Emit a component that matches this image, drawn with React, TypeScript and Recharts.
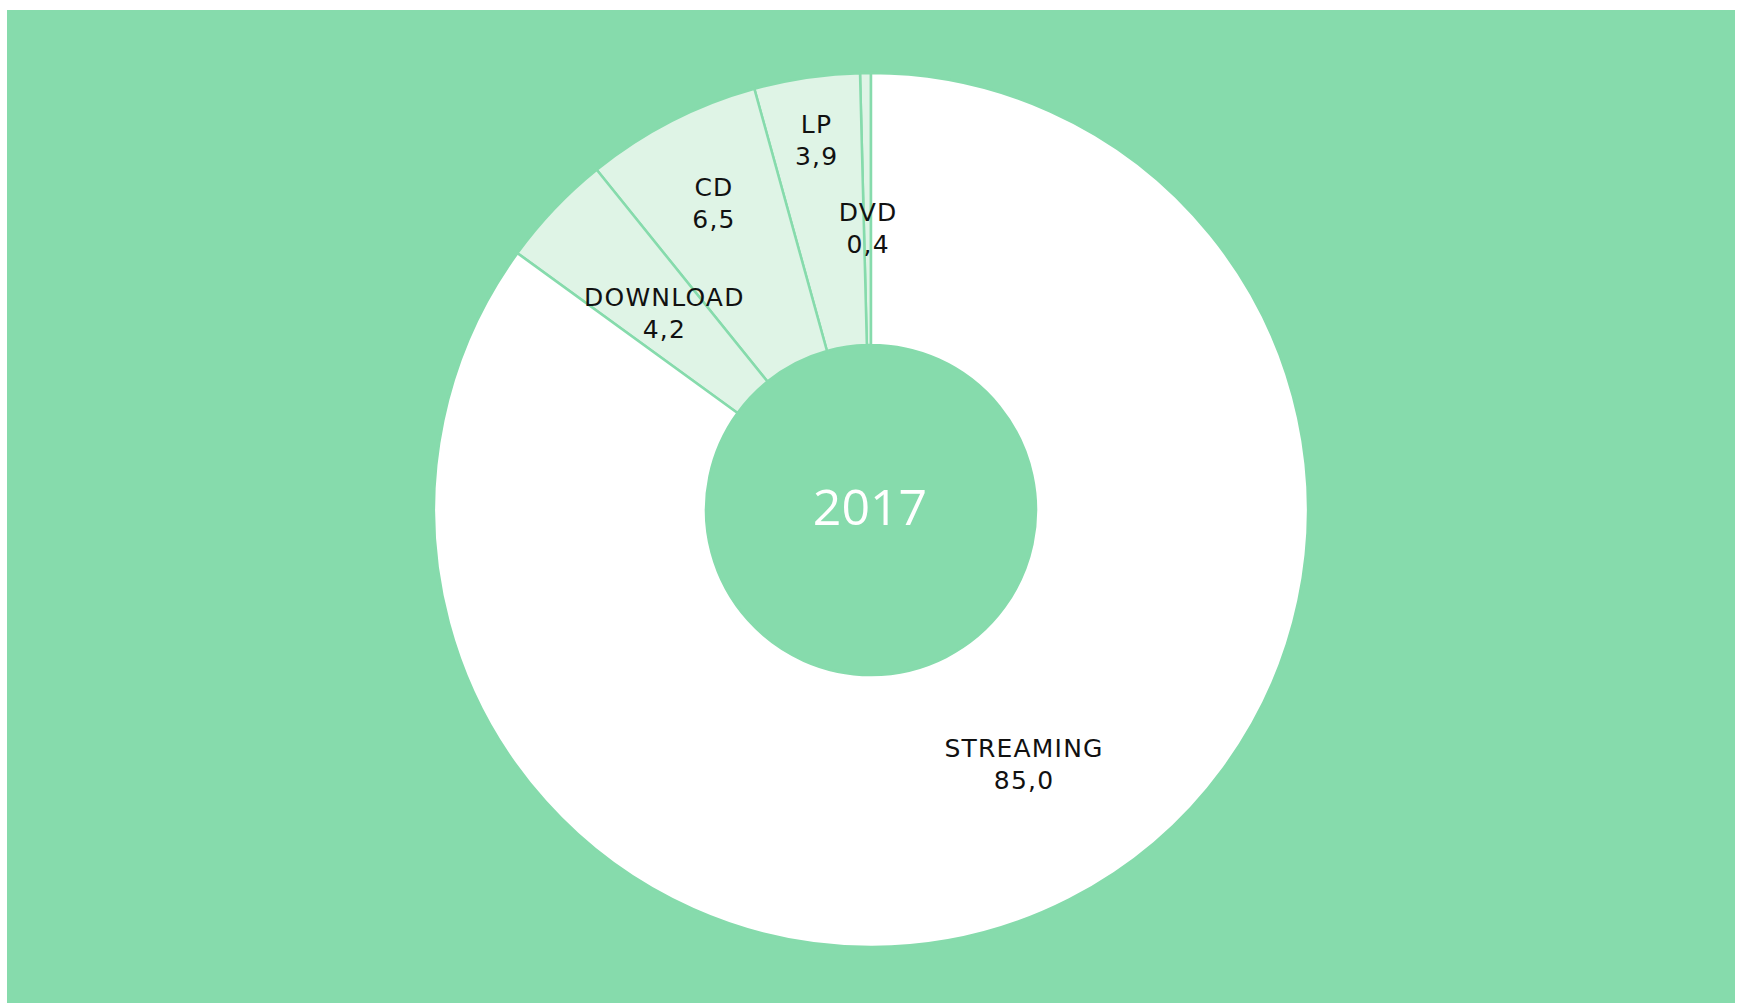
import React from "react";
import { PieChart, Pie, Cell } from "recharts";

// Music revenue share by format, 2017 (%)
const formats = ["DVD", "LP", "CD", "DOWNLOAD", "STREAMING"];
const shares = [0.4, 3.9, 6.5, 4.2, 85.0];
const yearLabel = "2017";

const BG = "#86dbac";
const LIGHT = "#dff4e6";
const FONT = "'Open Sans', 'DejaVu Sans', sans-serif";
const LABEL_FONT = "'DejaVu Sans', sans-serif";

const W = 1728;
const H = 993;
const CX = 864;
const CY = 500;

// hand-tuned label placement (radius from centre, angle nudge in degrees)
const labelSpot: Record<string, { r: number; da: number }> = {
  DVD: { r: 282, da: 0 },
  LP: { r: 374, da: 0 },
  CD: { r: 345, da: 0 },
  DOWNLOAD: { r: 286, da: 0 },
  STREAMING: { r: 296, da: 4 },
};

const RAD = Math.PI / 180;

const renderLabel = (props: any) => {
  const { cx, cy, midAngle, name, value } = props;
  const spot = labelSpot[name] || { r: 300, da: 0 };
  const a = (midAngle + spot.da) * RAD;
  const x = cx + spot.r * Math.cos(a);
  const y = cy - spot.r * Math.sin(a);
  return (
    <text
      x={x}
      y={y}
      textAnchor="middle"
      fill="#111"
      fontSize={25}
      fontFamily={LABEL_FONT}
      letterSpacing={1.2}
    >
      <tspan x={x + 0.6} y={y - 7}>
        {name}
      </tspan>
      <tspan x={x + 0.6} y={y + 25}>
        {Number(value).toFixed(1).replace(".", ",")}
      </tspan>
    </text>
  );
};

export default function App() {
  const data = formats.map((f, i) => ({ name: f, value: shares[i] }));

  return (
    <div
      style={{
        position: "absolute",
        left: 7,
        top: 10,
        width: W,
        height: H,
        background: BG,
        overflow: "hidden",
      }}
    >
      <PieChart width={W} height={H} margin={{ top: 0, right: 0, bottom: 0, left: 0 }}>
        <Pie
          data={data}
          dataKey="value"
          nameKey="name"
          cx={CX}
          cy={CY}
          innerRadius={165}
          outerRadius={437}
          startAngle={90}
          endAngle={450}
          stroke={BG}
          strokeWidth={2.5}
          label={renderLabel}
          labelLine={false}
          isAnimationActive={false}
        >
          {data.map((d) => (
            <Cell key={d.name} fill={d.name === "STREAMING" ? "#ffffff" : LIGHT} />
          ))}
        </Pie>
      </PieChart>

      {/* year in the hole */}
      <svg
        width={W}
        height={H}
        style={{ position: "absolute", left: 0, top: 0, pointerEvents: "none" }}
      >
        <text
          x={CX - 1}
          y={515}
          textAnchor="middle"
          fill="#ffffff"
          fontSize={50}
          fontFamily={FONT}
        >
          {yearLabel}
        </text>
      </svg>
    </div>
  );
}
